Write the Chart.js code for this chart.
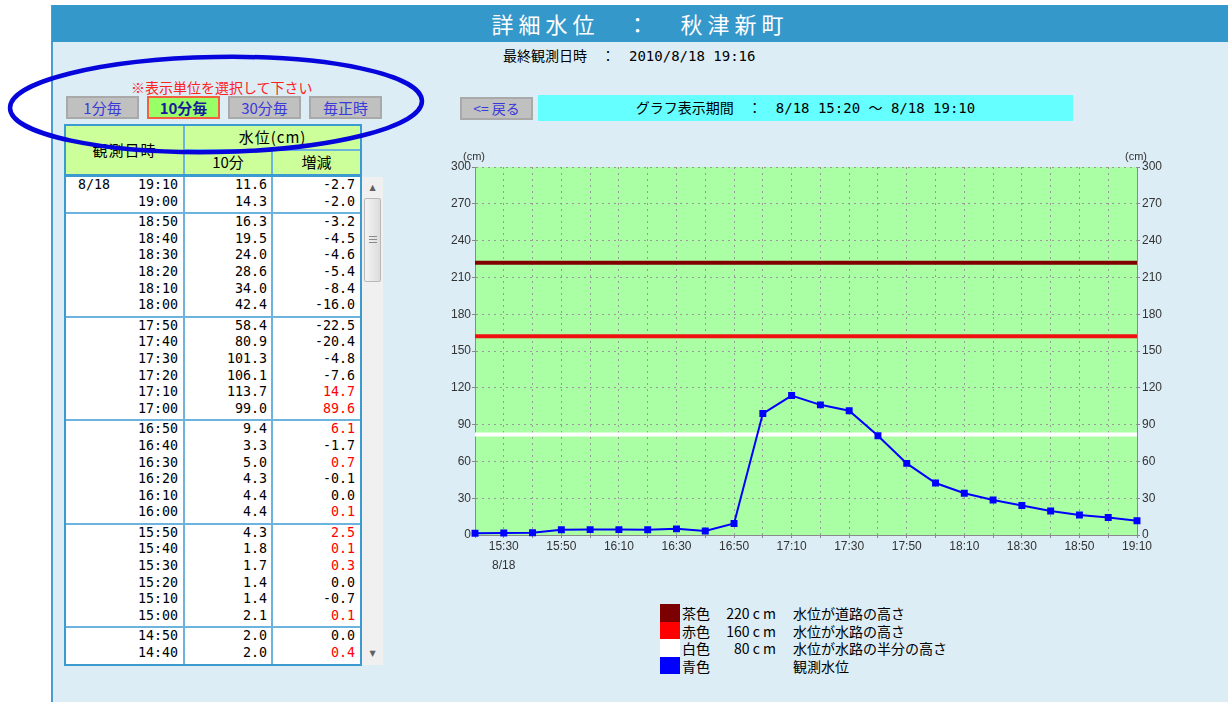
<!DOCTYPE html>
<html lang="ja">
<head>
<meta charset="utf-8">
<title>詳細水位 : 秋津新町</title>
<script src="https://cdn.jsdelivr.net/npm/chart.js@4.4.1/dist/chart.umd.min.js"></script>
<style>
  html, body { margin: 0; padding: 0; }
  body {
    width: 1228px; height: 702px; position: relative; overflow: hidden; background: #fff;
    font-family: "DejaVu Sans Mono", "Noto Sans CJK JP", monospace; color: #000;
  }
  .abs { position: absolute; }
  #panel { left: 51px; top: 5px; width: 1177px; height: 697px; background: #dcedf5;
           border-left: 2px solid #4a9dd2; box-sizing: border-box; }
  #titlebar { left: 52px; top: 5px; width: 1176px; height: 37px; background: #3598cb; color: #fff;
              text-align: center; font: 22px/37px "Noto Sans CJK JP"; letter-spacing: 5px; }
  #lastobs { left: 503px; top: 46px; font-size: 14px; line-height: 20px; white-space: pre; }

  .note { left: 131px; top: 78px; color: #ff2020; font: 14px/18px "Noto Sans CJK JP"; }
  .btn { height: 23px; box-sizing: border-box; background: #c0c0c0; border: 2px solid #a9a9a9;
         color: #3a3ad8; font: 15px/19px "Noto Sans CJK JP"; text-align: center; }
  .btn.on { background: #99ff66; border-color: #f2603f; color: #1a1a9a; font-weight: bold; }

  #periodbar { left: 538px; top: 95px; width: 535px; height: 26px; background: #66ffff;
               font-size: 14px; line-height: 26px; text-align: center; white-space: pre; }

  /* table */
  .thead { left: 64px; top: 124px; width: 298px; height: 52px; box-sizing: border-box;
           background: #ccff99; border: 2px solid #3b9bd0; }
  .hline { background: #6cb4de; }
  .hcell { font: 15px/20px "Noto Sans CJK JP"; text-align: center; white-space: pre; }
  #tbody { left: 64px; top: 175px; width: 298px; height: 491px; box-sizing: border-box;
           background: #fff; border: 2px solid #3b9bd0; overflow: hidden; }
  .grp { padding-bottom: 2px; border-bottom: 2px solid #6cb4de; }
  .row { position: relative; height: 16.6px; font-size: 13.3px; line-height: 16.6px; }
  .row span { position: absolute; top: 0; white-space: pre; }
  .row .d { left: 12px; }
  .row .t { left: 0; width: 112px; text-align: right; }
  .row .v { left: 0; width: 201px; text-align: right; }
  .row .c { left: 0; width: 289px; text-align: right; }
  .row .up { color: #ff0000; }
  .vdiv { top: 0; width: 2px; height: 100%; background: #6cb4de; }

  #scroll { left: 362px; top: 177px; width: 21px; height: 488px; background: #f0f0f0; }
  .arrow { left: 0; width: 21px; text-align: center; color: #606060; font: 8px/14px "DejaVu Sans"; }
  #thumb { left: 2px; top: 21px; width: 17px; height: 84px; box-sizing: border-box;
           border: 1px solid #b8b8b8; border-radius: 2px;
           background: linear-gradient(to right, #f4f4f4, #dcdcdc); }
  #thumb div { position: absolute; left: 4px; width: 8px; height: 1px; background: #8a8a8a; }

  #chartbox { left: 440px; top: 140px; width: 740px; height: 440px; }
  .unit { font: 11px/14px "Liberation Sans"; color: #333; }

  .legsq { left: 660px; width: 20px; height: 17.5px; }
  .legtx { font: 14px/18px "Noto Sans CJK JP"; white-space: pre; }
</style>
</head>
<body>
<script>
const DATE_LABEL   = '8/18';
const TIME_LABELS  = ['15:20', '15:30', '15:40', '15:50', '16:00', '16:10', '16:20', '16:30',
                      '16:40', '16:50', '17:00', '17:10', '17:20', '17:30', '17:40', '17:50',
                      '18:00', '18:10', '18:20', '18:30', '18:40', '18:50', '19:00', '19:10'];
const WATER_LEVEL  = [1.4, 1.7, 1.8, 4.3, 4.4, 4.4, 4.3, 5.0,
                      3.3, 9.4, 99.0, 113.7, 106.1, 101.3, 80.9, 58.4,
                      42.4, 34.0, 28.6, 24.0, 19.5, 16.3, 14.3, 11.6];
const LEVEL_ROAD    = 222;   // 茶色: 水位が道路の高さ
const LEVEL_CHANNEL = 162;   // 赤色: 水位が水路の高さ
const LEVEL_HALF    = 82;    // 白色: 水位が水路の半分の高さ
const Y_MIN = 0, Y_MAX = 300, Y_STEP = 30;

// ---- table data (newest first) ----
const TABLE_TIMES  = ['19:10', '19:00', '18:50', '18:40', '18:30', '18:20', '18:10', '18:00',
                      '17:50', '17:40', '17:30', '17:20', '17:10', '17:00', '16:50', '16:40',
                      '16:30', '16:20', '16:10', '16:00', '15:50', '15:40', '15:30', '15:20',
                      '15:10', '15:00', '14:50', '14:40'];
const TABLE_LEVELS = [11.6, 14.3, 16.3, 19.5, 24.0, 28.6, 34.0, 42.4,
                      58.4, 80.9, 101.3, 106.1, 113.7, 99.0, 9.4, 3.3,
                      5.0, 4.3, 4.4, 4.4, 4.3, 1.8, 1.7, 1.4,
                      1.4, 2.1, 2.0, 2.0];
const TABLE_DELTAS = [-2.7, -2.0, -3.2, -4.5, -4.6, -5.4, -8.4, -16.0,
                      -22.5, -20.4, -4.8, -7.6, 14.7, 89.6, 6.1, -1.7,
                      0.7, -0.1, 0.0, 0.1, 2.5, 0.1, 0.3, 0.0,
                      -0.7, 0.1, 0.0, 0.4];

const UNIT_BUTTONS = ['1分毎', '10分毎', '30分毎', '毎正時'];
const LEGEND_ROWS = [
  { color: '#7d0000', name: '茶色', height: '220 c m', text: '水位が道路の高さ' },
  { color: '#ff0000', name: '赤色', height: '160 c m', text: '水位が水路の高さ' },
  { color: '#ffffff', name: '白色', height: '80 c m',  text: '水位が水路の半分の高さ' },
  { color: '#0000ff', name: '青色', height: '',        text: '観測水位' },
];
</script>

<div id="panel" class="abs"></div>
<div id="titlebar" class="abs">詳細水位　：　秋津新町</div>
<div id="lastobs" class="abs">最終観測日時　：　2010/8/18 19:16</div>

<div class="abs note">※表示単位を選択して下さい</div>
<div id="buttons"></div>

<div class="abs btn" style="left:460px;top:97px;width:73px;font-size:14px;">&lt;= 戻る</div>
<div id="periodbar" class="abs">グラフ表示期間　：　8/18 15:20 〜 8/18 19:10</div>

<!-- table header -->
<div class="abs thead"></div>
<div class="abs hline" style="left:183px;top:126px;width:2px;height:48px;"></div>
<div class="abs hline" style="left:185px;top:149px;width:175px;height:2px;"></div>
<div class="abs hline" style="left:271px;top:151px;width:2px;height:23px;"></div>
<div class="abs hcell" style="left:66px;top:140px;width:117px;letter-spacing:1px;">観測日時</div>
<div class="abs hcell" style="left:185px;top:127px;width:175px;letter-spacing:1px;">水位(cm)</div>
<div class="abs hcell" style="left:185px;top:152px;width:86px;">10分</div>
<div class="abs hcell" style="left:273px;top:152px;width:87px;">増減</div>

<div id="tbody" class="abs">
  <div id="rows"></div>
  <div class="abs vdiv" style="left:117px;"></div>
  <div class="abs vdiv" style="left:205px;"></div>
</div>
<div id="scroll" class="abs">
  <div class="abs arrow" style="top:4px;">▲</div>
  <div id="thumb" class="abs">
    <div style="top:37px;"></div><div style="top:40px;"></div><div style="top:43px;"></div>
  </div>
  <div class="abs arrow" style="top:470px;">▼</div>
</div>

<svg class="abs" style="left:0;top:0;z-index:5;" width="440" height="170">
  <ellipse cx="216" cy="104.5" rx="206" ry="47.5" transform="rotate(-1 216 104.5)"
           fill="none" stroke="#0505dc" stroke-width="4.5"/>
</svg>

<div id="chartbox" class="abs"><canvas id="chart" width="740" height="440"></canvas></div>
<div class="abs unit" style="left:463px;top:149px;">(cm)</div>
<div class="abs unit" style="left:1125px;top:149px;">(cm)</div>

<div id="legend"></div>

<script>
// ---- buttons ----
const BTN_LEFT = [66, 147, 228, 309];
const BTN_WIDTH = [73, 73, 73, 73];
document.getElementById('buttons').innerHTML = UNIT_BUTTONS.map((b, i) =>
  `<div class="abs btn${i === 1 ? ' on' : ''}" style="left:${BTN_LEFT[i]}px;top:96px;width:${BTN_WIDTH[i]}px;">${b}</div>`
).join('');

// ---- table rows, grouped by hour ----
(function buildTable() {
  let html = '';
  let open = false;
  TABLE_TIMES.forEach((t, i) => {
    if (i === 0 || t.endsWith(':50')) {
      if (open) html += '</div>';
      html += '<div class="grp">';
      open = true;
    }
    const d = TABLE_DELTAS[i];
    html += '<div class="row">'
      + (i === 0 ? `<span class="d">${DATE_LABEL}</span>` : '')
      + `<span class="t">${t}</span>`
      + `<span class="v">${TABLE_LEVELS[i].toFixed(1)}</span>`
      + `<span class="c${d > 0 ? ' up' : ''}">${d.toFixed(1)}</span>`
      + '</div>';
  });
  if (open) html += '</div>';
  document.getElementById('rows').innerHTML = html;
})();

// ---- legend ----
document.getElementById('legend').innerHTML = LEGEND_ROWS.map((r, i) => {
  const top = 604 + i * 17.5;
  return `<div class="abs legsq" style="top:${top}px;background:${r.color};"></div>`
    + `<div class="abs legtx" style="left:682px;top:${top}px;">${r.name}</div>`
    + `<div class="abs legtx" style="left:715px;width:61px;text-align:right;top:${top}px;">${r.height}</div>`
    + `<div class="abs legtx" style="left:793px;top:${top}px;">${r.text}</div>`;
}).join('');

// ---- chart ----
const FONT = { family: 'Liberation Sans', size: 12 };
const GRID = '#9a9a9a';

const plotBackground = {
  id: 'plotBackground',
  beforeDraw(chart) {
    const { ctx, chartArea: a } = chart;
    ctx.save();
    ctx.fillStyle = '#aaffa5';
    ctx.fillRect(a.left, a.top, a.right - a.left, a.bottom - a.top);
    ctx.restore();
  }
};

const levelLine = (value, color, width) => ({
  data: TIME_LABELS.map(() => value),
  borderColor: color,
  borderWidth: width,
  pointRadius: 0,
  yAxisID: 'y',
});

new Chart(document.getElementById('chart'), {
  type: 'line',
  data: {
    labels: TIME_LABELS,
    datasets: [
      {
        data: WATER_LEVEL,
        borderColor: '#0000ff',
        borderWidth: 2,
        pointStyle: 'rect',
        pointRadius: 3.5,
        pointBackgroundColor: '#0000ff',
        pointBorderColor: '#0000ff',
        tension: 0,
        clip: false,
        yAxisID: 'y',
      },
      levelLine(LEVEL_HALF, '#ffffff', 4),
      levelLine(LEVEL_CHANNEL, '#f01010', 4),
      levelLine(LEVEL_ROAD, '#800000', 4),
    ],
  },
  options: {
    responsive: false,
    animation: false,
    layout: { padding: { top: 27, left: 0, right: 0, bottom: 0 } },
    plugins: { legend: { display: false }, tooltip: { enabled: false } },
    scales: {
      x: {
        offset: false,
        grid: { color: GRID, tickLength: 3, tickColor: '#888' },
        border: { color: '#8a8a8a', dash: [2, 4] },
        ticks: {
          autoSkip: false, maxRotation: 0, color: '#333', padding: -1,
          font: { ...FONT, lineHeight: 1.6 },
          callback(value, index) {
            if (index % 2 === 0) return '';
            return index === 1 ? [TIME_LABELS[index], DATE_LABEL] : TIME_LABELS[index];
          },
        },
        afterFit(scale) { scale.height = 45; },
      },
      y: {
        position: 'left', min: Y_MIN, max: Y_MAX,
        grid: { color: GRID, tickLength: 3, tickColor: '#888' },
        border: { color: '#8a8a8a', dash: [2, 4] },
        ticks: { stepSize: Y_STEP, color: '#333', font: FONT, padding: 1 },
        afterFit(scale) { scale.width = 35; },
      },
      y2: {
        position: 'right', min: Y_MIN, max: Y_MAX,
        grid: { drawOnChartArea: false, tickLength: 3, tickColor: '#888' },
        border: { color: '#8a8a8a' },
        ticks: { stepSize: Y_STEP, color: '#333', font: FONT, padding: 2 },
        afterFit(scale) { scale.width = 43; },
      },
    },
  },
  plugins: [plotBackground],
});
</script>
</body>
</html>
